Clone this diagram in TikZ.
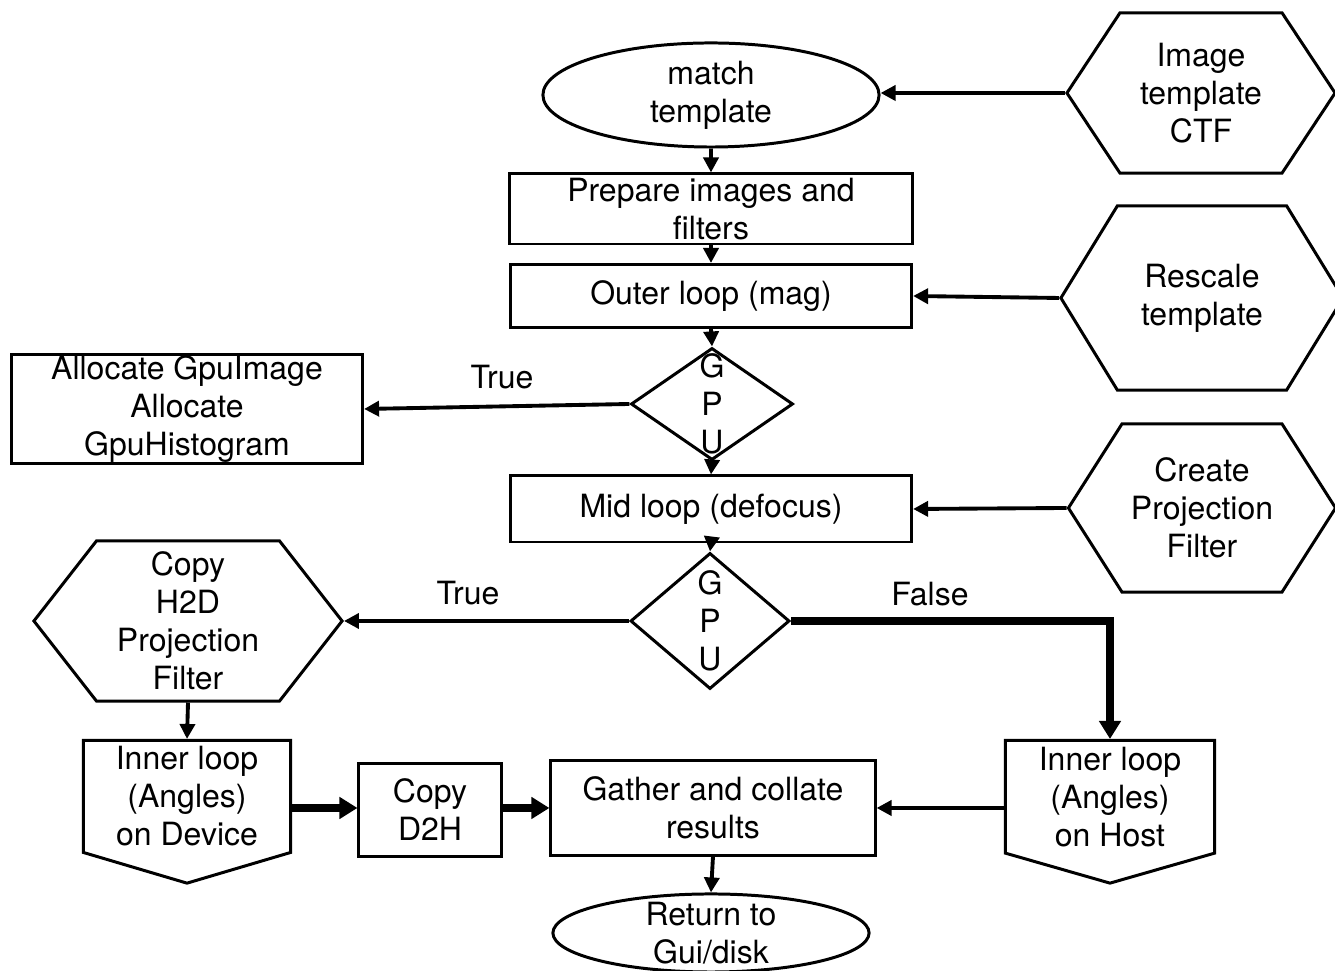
\documentclass[tikz,border=0pt]{standalone}
\usepackage{fontspec}
\setmainfont{TeX Gyre Heros}
\usetikzlibrary{shapes.geometric,shapes.symbols,arrows.meta}
\begin{document}
\begin{tikzpicture}[x=0.01cm,y=-0.01cm]
  \tikzset{every node/.style={font=\fontsize{9.1}{10.8}\selectfont, align=center, inner sep=0pt},
    boxed/.style={draw, line width=0.85pt, rectangle},
    oval/.style={draw, line width=0.85pt, ellipse},
    hexa/.style={draw, line width=0.85pt, signal, signal to=east and west},
    pent/.style={draw, line width=0.85pt, signal, signal to=south},
    decision/.style={draw, line width=0.85pt, diamond},
    flow/.style={line width=1.1pt, -{Triangle[length=0.15cm,width=0.15cm]}},
    heavy/.style={line width=2.2pt, -{Triangle[length=0.18cm,width=0.21cm]}}}
  \useasboundingbox (0,0) rectangle (1335,971);

  \node[oval, minimum width=3.36cm, minimum height=1.04cm] at (711,95) (match) {match\\template};
  \node[hexa, signal pointer angle=113, minimum width=2.68cm, minimum height=1.6cm] at (1201,93) (ctf) {Image\\template\\CTF};
  \node[boxed, minimum width=4.02cm, minimum height=0.70cm] at (711,209) (prep) {Prepare images and\\filters};
  \node[boxed, minimum width=4.01cm, minimum height=0.63cm] at (711,296) (outer) {Outer loop (mag)};
  \node[hexa, signal pointer angle=117, minimum width=2.82cm, minimum height=1.84cm] at (1202,298) (rescale) {Rescale\\template};
  \node[decision, minimum width=1.62cm, minimum height=1.12cm, label={center:{G\\P\\U}}] at (712,404) (gpu_1) {};
  \node[boxed, minimum width=3.51cm, minimum height=1.08cm] at (187,409) (alloc) {Allocate GpuImage\\Allocate\\GpuHistogram};
  \node at (502,377) (true_1) {True};

  \node[boxed, minimum width=4.01cm, minimum height=0.66cm] at (711,509) (mid) {Mid loop (defocus)};
  \node[hexa, signal pointer angle=115, minimum width=2.67cm, minimum height=1.68cm] at (1202,508) (proj) {Create\\Projection\\Filter};
  \node[decision, minimum width=1.59cm, minimum height=1.36cm, label={center:{G\\P\\U}}] at (710,621) (gpu_2) {};
  \node[hexa, signal pointer angle=104, minimum width=3.08cm, minimum height=1.6cm] at (188,621) (htod) {Copy\\H2D\\Projection\\Filter};
  \node at (468,593) (true_2) {True};
  \node at (930,594) (false_2) {False};

  \node[pent, signal pointer angle=147, minimum width=2.07cm, minimum height=1.33cm, anchor=north] at (187,739) (device) {Inner loop\\(Angles)\\on Device};
  \node[pent, signal pointer angle=148, minimum width=2.09cm, minimum height=1.33cm, anchor=north] at (1110,739) (host) {Inner loop\\(Angles)\\on Host};
  \node[boxed, minimum width=1.42cm, minimum height=0.93cm] at (430,810) (dtoh) {Copy\\D2H};
  \node[boxed, minimum width=3.24cm, minimum height=0.94cm] at (713,808) (gather) {Gather and collate\\results};
  \node[oval, minimum width=3.16cm, minimum height=0.78cm, label={center:{Return to\\Gui/disk}}] at (711,933) (ret) {};

  \draw[flow] (ctf.west) -- (ctf.west -| match.east);
  \draw[flow] (match) -- (prep);
  \draw[flow] (prep) -- (outer);
  \draw[flow] (rescale.west) -- (outer.east);
  \draw[flow] (outer.south) -- (gpu_1.north);
  \draw[flow] (gpu_1.west) -- (alloc.east);
  \draw[flow] (gpu_1.south) -- (mid.north);
  \draw[flow] (proj.west) -- (mid.east);
  \draw[flow] (mid.south) -- (gpu_2.north);
  \draw[flow] (gpu_2.west) -- (htod.east);
  \draw[heavy] (gpu_2.east) -| (host.north);
  \draw[flow] (htod.south) -- (device.north);
  \draw[heavy] (gather.west -| device.east) -- (gather.west -| dtoh.west);
  \draw[heavy] (gather.west -| dtoh.east) -- (gather.west);
  \draw[flow] (gather.east -| host.west) -- (gather.east);
  \draw[flow] (gather.south) -- (ret.north);
\end{tikzpicture}
\end{document}
